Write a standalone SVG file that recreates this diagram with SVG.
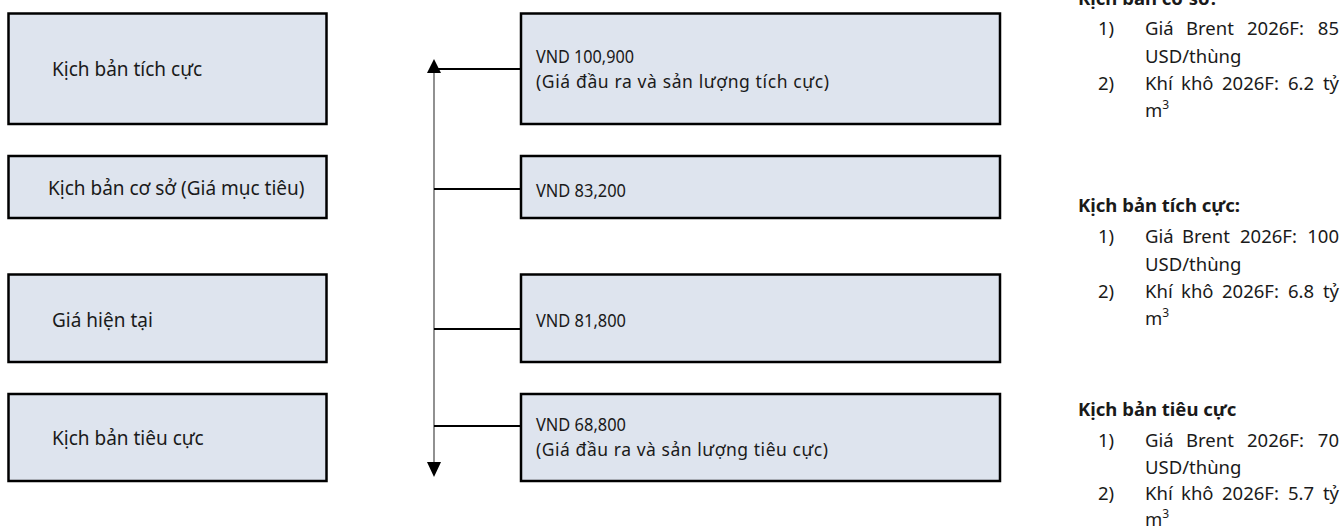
<svg xmlns="http://www.w3.org/2000/svg" width="1342" height="526" viewBox="0 0 1342 526">
  <defs>
    <style>
      .box { fill: #dee4ee; stroke: #000; stroke-width: 2.5; }
      .lbl { font-family: "Noto Sans", "Open Sans", sans-serif; font-size: 19px; fill: #1a1a1a; }
      .val { font-family: "Noto Sans", "Open Sans", sans-serif; font-size: 17.5px; fill: #1a1a1a; }
      .note { font-family: "Noto Sans", "Open Sans", sans-serif; font-size: 18.5px; fill: #1a1a1a; }
      .head { font-weight: bold; }
      .link { stroke: #000; stroke-width: 2; fill: none; }
      .axis { stroke: #555; stroke-width: 1.3; fill: none; }
      .tip { fill: #000; }
    </style>
  </defs>

  <!-- scenario labels -->
  <g id="scenario-positive">
    <rect class="box" x="8.5" y="13.5" width="318" height="110.5"/>
    <text class="lbl" x="52" y="76">Kịch bản tích cực</text>
  </g>
  <g id="scenario-base">
    <rect class="box" x="8.5" y="156" width="318" height="62"/>
    <text class="lbl" x="48" y="195">Kịch bản cơ sở (Giá mục tiêu)</text>
  </g>
  <g id="scenario-current">
    <rect class="box" x="8.5" y="274.5" width="318" height="87.5"/>
    <text class="lbl" x="52" y="327">Giá hiện tại</text>
  </g>
  <g id="scenario-negative">
    <rect class="box" x="8.5" y="394" width="318" height="87"/>
    <text class="lbl" x="52" y="445">Kịch bản tiêu cực</text>
  </g>

  <!-- price values -->
  <g id="value-positive">
    <rect class="box" x="521" y="13.5" width="479" height="110.5"/>
    <text class="val" x="536" y="63" textLength="98" lengthAdjust="spacingAndGlyphs">VND 100,900</text>
    <text class="val" x="536" y="88" textLength="293" lengthAdjust="spacing">(Giá đầu ra và sản lượng tích cực)</text>
  </g>
  <g id="value-base">
    <rect class="box" x="521" y="156" width="479" height="62"/>
    <text class="val" x="536" y="197" textLength="90" lengthAdjust="spacingAndGlyphs">VND 83,200</text>
  </g>
  <g id="value-current">
    <rect class="box" x="521" y="274.5" width="479" height="87.5"/>
    <text class="val" x="536" y="327" textLength="90" lengthAdjust="spacingAndGlyphs">VND 81,800</text>
  </g>
  <g id="value-negative">
    <rect class="box" x="521" y="394" width="479" height="87"/>
    <text class="val" x="536" y="431" textLength="90" lengthAdjust="spacingAndGlyphs">VND 68,800</text>
    <text class="val" x="536" y="456" textLength="292" lengthAdjust="spacing">(Giá đầu ra và sản lượng tiêu cực)</text>
  </g>

  <!-- price axis and ties -->
  <g id="connectors">
    <line class="axis" x1="434" y1="73" x2="434" y2="463"/>
    <path class="tip" d="M427,73 L441,73 L434,59 Z"/>
    <path class="tip" d="M427,462 L441,462 L434,477 Z"/>
    <line class="link" x1="434" y1="69" x2="521" y2="69"/>
    <line class="link" x1="434" y1="189" x2="521" y2="189"/>
    <line class="link" x1="434" y1="329" x2="521" y2="329"/>
    <line class="link" x1="434" y1="426" x2="521" y2="426"/>
  </g>

  <!-- assumptions per scenario -->
  <g id="notes-base" class="note">
    <text class="head" x="1078" y="5">Kịch bản cơ sở:</text>
    <text x="1098" y="35">1)</text>
    <text y="35"><tspan x="1145">Giá</tspan><tspan x="1186">Brent</tspan><tspan x="1247">2026F:</tspan><tspan x="1339" text-anchor="end">85</tspan></text>
    <text x="1145" y="63">USD/thùng</text>
    <text x="1098" y="90">2)</text>
    <text y="90"><tspan x="1145">Khí</tspan><tspan x="1181">khô</tspan><tspan x="1222">2026F:</tspan><tspan x="1288">6.2</tspan><tspan x="1339" text-anchor="end">tỷ</tspan></text>
    <text x="1145" y="117">m<tspan font-size="12" dy="-8">3</tspan></text>
  </g>
  <g id="notes-positive" class="note">
    <text class="head" x="1078" y="212">Kịch bản tích cực:</text>
    <text x="1098" y="243">1)</text>
    <text y="243"><tspan x="1145">Giá</tspan><tspan x="1182">Brent</tspan><tspan x="1240">2026F:</tspan><tspan x="1339" text-anchor="end">100</tspan></text>
    <text x="1145" y="271">USD/thùng</text>
    <text x="1098" y="298">2)</text>
    <text y="298"><tspan x="1145">Khí</tspan><tspan x="1181">khô</tspan><tspan x="1222">2026F:</tspan><tspan x="1288">6.8</tspan><tspan x="1339" text-anchor="end">tỷ</tspan></text>
    <text x="1145" y="325">m<tspan font-size="12" dy="-8">3</tspan></text>
  </g>
  <g id="notes-negative" class="note">
    <text class="head" x="1078" y="416">Kịch bản tiêu cực</text>
    <text x="1098" y="447">1)</text>
    <text y="447"><tspan x="1145">Giá</tspan><tspan x="1186">Brent</tspan><tspan x="1247">2026F:</tspan><tspan x="1339" text-anchor="end">70</tspan></text>
    <text x="1145" y="474">USD/thùng</text>
    <text x="1098" y="500">2)</text>
    <text y="500"><tspan x="1145">Khí</tspan><tspan x="1181">khô</tspan><tspan x="1222">2026F:</tspan><tspan x="1288">5.7</tspan><tspan x="1339" text-anchor="end">tỷ</tspan></text>
    <text x="1145" y="526">m<tspan font-size="12" dy="-8">3</tspan></text>
  </g>
</svg>
